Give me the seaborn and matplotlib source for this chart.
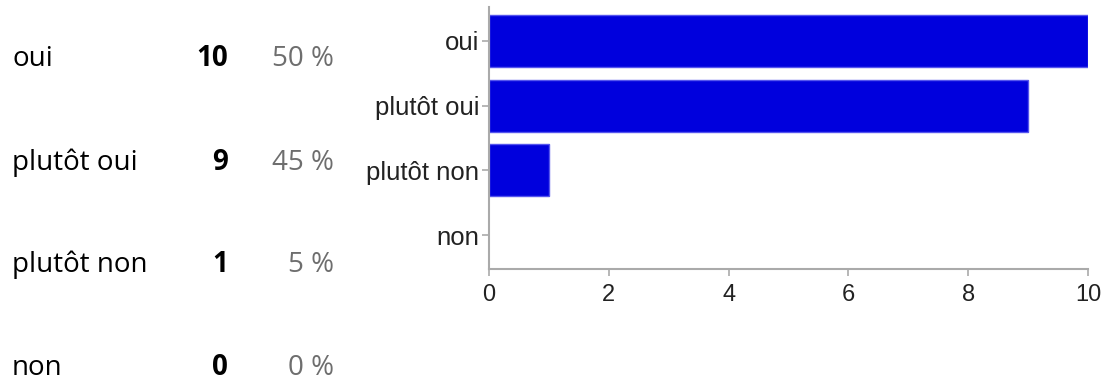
import matplotlib
matplotlib.use('Agg')
import matplotlib.pyplot as plt
import seaborn as sns

# Survey answers
answers = ['oui', 'plutôt oui', 'plutôt non', 'non']
counts = [10, 9, 1, 0]
percents = ['50 %', '45 %', '5 %', '0 %']

W, H = 1105, 382
sns.set_style('white')

fig = plt.figure(figsize=(W / 100, H / 100), dpi=100)

# Table on the left
baselines = [66, 170, 272, 375]
for ans, n, pct, yb in zip(answers, counts, percents, baselines):
    y = 1 - yb / H
    fig.text(12 / W, y, ans, fontsize=20, family='Open Sans', va='baseline', ha='left', color='black')
    fig.text(228 / W, y, str(n), fontsize=20, family='Open Sans', weight='bold',
             va='baseline', ha='right', color='black')
    fig.text(334 / W, y, pct, fontsize=20, family='Open Sans', va='baseline', ha='right', color='#6e6e6e')

# Bar chart on the right
ax = fig.add_axes([489 / W, 1 - 269 / H, (1088 - 489) / W, (269 - 7) / H])
sns.barplot(x=counts, y=answers, orient='h', color='#0000dd', saturation=1,
            width=0.8, edgecolor='#5555ee', linewidth=1, ax=ax)
# no outline on empty bars
for bar in ax.patches:
    if bar.get_width() == 0:
        bar.set_linewidth(0)

ax.set_xlim(0, 10)
ax.set_ylim(3.52, -0.52)
ax.set_xticks([0, 2, 4, 6, 8, 10])
ax.set_xlabel('')
ax.set_ylabel('')
for side in ['top', 'right']:
    ax.spines[side].set_visible(False)
for side in ['left', 'bottom']:
    ax.spines[side].set_color('#aaaaaa')
    ax.spines[side].set_linewidth(1.5)
ax.tick_params(axis='both', which='both', length=5, width=1.2, color='#aaaaaa',
               labelcolor='#222222', pad=2, left=True, bottom=True, direction='out')
ax.tick_params(axis='y', labelsize=18.5)
ax.tick_params(axis='x', length=5, pad=6, labelsize=17)
for lbl in ax.get_xticklabels() + ax.get_yticklabels():
    lbl.set_family('Liberation Sans')

fig.savefig('out.png', dpi=100)
